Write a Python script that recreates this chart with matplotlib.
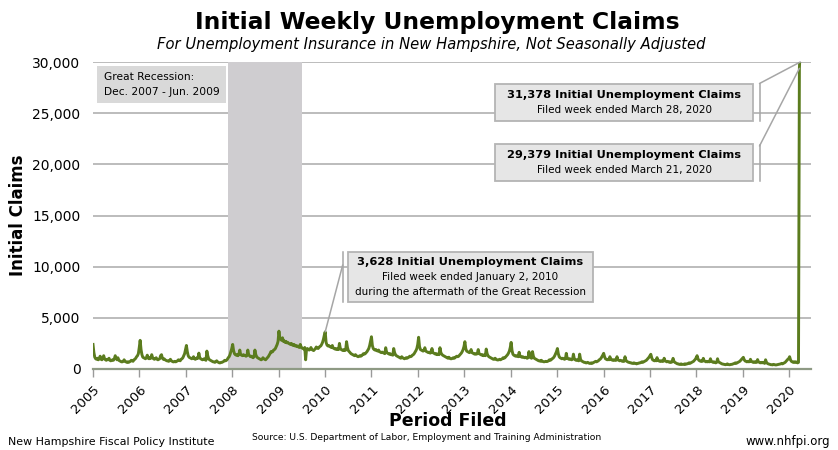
import matplotlib
matplotlib.use("Agg")
import matplotlib.pyplot as plt
from matplotlib.patches import Rectangle
from matplotlib.lines import Line2D
import pandas as pd
import numpy as np

# ---------------- data (weekly initial claims, week-ending Saturdays) -------------
years = list(range(2005, 2021))
claims_2005 = [2400, 1600, 1150, 1000, 950, 1050, 900, 1000, 1250, 950, 900, 1000, 1300, 1000, 900, 850, 950, 900, 1050, 850, 800, 850, 900, 850, 1000, 1300, 1050, 900, 1100, 850, 800, 750, 700, 700, 750, 900, 750, 700, 650, 700, 650, 700, 750, 850, 800, 750, 900, 950, 1050, 1200, 1300, 1500, 2100]
claims_2006 = [2800, 1900, 1400, 1150, 1100, 1050, 1000, 1100, 1350, 1050, 1000, 1100, 1050, 1400, 1100, 1000, 950, 1000, 1100, 950, 900, 950, 1000, 1300, 1400, 1050, 950, 1000, 900, 850, 800, 800, 750, 800, 950, 800, 750, 700, 700, 750, 700, 750, 800, 900, 850, 800, 950, 1000, 1100, 1300, 1500, 1900]
claims_2007 = [2300, 1700, 1300, 1150, 1100, 1050, 1000, 1050, 1200, 1000, 950, 1000, 1100, 1050, 1550, 1100, 1000, 950, 900, 950, 1000, 900, 850, 1750, 1300, 1000, 900, 850, 800, 750, 700, 700, 650, 700, 800, 700, 650, 600, 600, 650, 650, 700, 750, 850, 800, 850, 950, 1100, 1200, 1400, 1700, 2000]
claims_2008 = [2400, 1800, 1500, 1400, 1350, 1400, 1300, 1450, 1850, 1400, 1350, 1300, 1400, 1350, 1300, 1250, 1300, 1850, 1400, 1300, 1200, 1250, 1150, 1100, 1200, 1850, 1400, 1200, 1100, 1050, 1000, 950, 900, 950, 1100, 1000, 950, 900, 1000, 1100, 1200, 1350, 1500, 1700, 1650, 1700, 1850, 1900, 2000, 2200, 2400, 2700]
claims_2009 = [3700, 3000, 2900, 2800, 3050, 2700, 2750, 2600, 2700, 2550, 2600, 2500, 2450, 2400, 2500, 2350, 2300, 2400, 2250, 2300, 2200, 2250, 2150, 2100, 2400, 2150, 2050, 2000, 1950, 2100, 900, 1900, 2000, 1900, 1850, 1950, 2100, 1900, 1850, 1800, 1900, 2000, 2150, 2050, 2000, 2100, 2200, 2250, 2400, 2600, 2900, 3300]
claims_2010 = [3628, 2600, 2350, 2250, 2300, 2200, 2150, 2100, 2300, 2050, 2000, 1950, 2000, 1900, 1950, 1900, 2500, 2000, 1900, 1850, 1800, 1900, 1800, 1850, 2670, 2100, 1800, 1700, 1600, 1500, 1450, 1400, 1350, 1300, 1400, 1300, 1250, 1200, 1250, 1300, 1250, 1300, 1400, 1500, 1450, 1500, 1600, 1700, 1850, 2000, 2300, 2700]
claims_2011 = [3150, 2300, 2000, 1900, 1850, 1900, 1800, 1750, 1850, 1700, 1650, 1600, 1650, 1600, 1550, 1500, 2080, 1650, 1550, 1500, 1450, 1500, 1400, 1400, 1350, 2000, 1600, 1400, 1300, 1250, 1200, 1150, 1100, 1050, 1200, 1100, 1050, 1000, 1050, 1100, 1050, 1100, 1150, 1250, 1200, 1250, 1350, 1400, 1500, 1650, 1800, 2000, 2400]
claims_2012 = [3100, 2200, 1900, 1850, 1800, 1750, 1800, 2080, 1750, 1700, 1650, 1600, 1650, 1550, 1600, 2000, 1600, 1550, 1500, 1450, 1500, 1400, 1450, 1400, 2080, 1600, 1450, 1350, 1300, 1250, 1200, 1150, 1100, 1050, 1150, 1050, 1000, 1000, 1050, 1100, 1050, 1100, 1200, 1250, 1200, 1250, 1350, 1450, 1550, 1700, 1900, 2200]
claims_2013 = [2670, 2000, 1750, 1700, 1650, 1600, 1650, 1900, 1600, 1550, 1500, 1450, 1500, 1450, 1500, 1900, 1500, 1450, 1400, 1350, 1400, 1300, 1350, 1300, 1950, 1500, 1300, 1200, 1150, 1100, 1050, 1000, 950, 950, 1050, 950, 900, 880, 900, 950, 900, 950, 1000, 1100, 1050, 1100, 1200, 1300, 1400, 1550, 1750, 2100]
claims_2014 = [2600, 1800, 1450, 1350, 1300, 1250, 1300, 1250, 1200, 1630, 1250, 1200, 1150, 1200, 1150, 1100, 1150, 1100, 1050, 1100, 1700, 1200, 1100, 1050, 1700, 1250, 1050, 1000, 950, 900, 850, 800, 800, 750, 850, 750, 720, 700, 720, 750, 720, 750, 800, 900, 850, 900, 1000, 1050, 1150, 1300, 1500, 1700]
claims_2015 = [2000, 1500, 1200, 1100, 1050, 1000, 1050, 1000, 950, 1000, 1530, 1050, 1000, 950, 1000, 950, 900, 950, 1450, 1000, 900, 850, 900, 850, 800, 1450, 950, 800, 750, 700, 650, 650, 600, 600, 650, 600, 550, 550, 600, 550, 600, 650, 700, 750, 700, 750, 800, 900, 950, 1050, 1200, 1350]
claims_2016 = [1530, 1200, 1000, 950, 900, 950, 900, 1200, 950, 900, 850, 900, 850, 900, 850, 1200, 900, 850, 800, 850, 800, 750, 800, 750, 1200, 850, 750, 700, 650, 650, 600, 600, 550, 550, 600, 550, 550, 500, 550, 550, 600, 600, 650, 700, 650, 700, 750, 800, 850, 950, 1050, 1150, 1300]
claims_2017 = [1440, 1100, 900, 850, 800, 850, 800, 1110, 850, 800, 750, 800, 750, 800, 750, 1050, 800, 750, 700, 750, 700, 650, 700, 650, 700, 1040, 750, 650, 600, 550, 500, 500, 450, 450, 500, 450, 450, 450, 500, 450, 500, 500, 550, 600, 550, 600, 650, 700, 750, 850, 950, 1100]
claims_2018 = [1300, 1000, 850, 800, 750, 800, 750, 1040, 800, 750, 700, 750, 700, 750, 700, 1000, 750, 700, 650, 700, 650, 600, 650, 1000, 700, 650, 600, 550, 500, 480, 450, 450, 420, 450, 500, 450, 420, 420, 450, 450, 480, 500, 550, 600, 550, 600, 650, 700, 750, 850, 950, 1050]
claims_2019 = [1140, 900, 780, 750, 700, 750, 700, 720, 950, 750, 700, 650, 700, 650, 700, 650, 920, 700, 650, 600, 650, 600, 650, 600, 550, 900, 650, 550, 500, 480, 450, 420, 420, 400, 450, 420, 400, 400, 420, 450, 450, 480, 500, 550, 500, 550, 600, 650, 750, 850, 950, 1000]
claims_2020 = [1200, 900, 750, 700, 650, 700, 650, 700, 650, 600, 650, 29379, 31378]

claims_by_year = [claims_2005, claims_2006, claims_2007, claims_2008, claims_2009,
                  claims_2010, claims_2011, claims_2012, claims_2013, claims_2014,
                  claims_2015, claims_2016, claims_2017, claims_2018, claims_2019,
                  claims_2020]

recession_start = "2007-12-01"
recession_end = "2009-06-30"

y_ticks = [0, 5000, 10000, 15000, 20000, 25000, 30000]
x_tick_labels = [str(y) for y in years]

# ---------------- build series ----------------
all_weeks = pd.date_range("2005-01-01", "2020-03-28", freq="W-SAT")
dates, values = [], []
for yr, vals in zip(years, claims_by_year):
    wk = [d for d in all_weeks if d.year == yr]
    for d, v in zip(wk, vals):
        dates.append(d)
        values.append(v)
dates = pd.to_datetime(dates)
values = np.array(values)
series = pd.Series(values, index=dates)

# ---------------- figure ----------------
plt.rcParams["font.family"] = ["DejaVu Sans"]
W, H = 838, 450
fig = plt.figure(figsize=(W / 100, H / 100), dpi=100)
L, R, T, B = 93, 810.7, 62, 369
ax = fig.add_axes([L / W, 1 - B / H, (R - L) / W, (B - T) / H])

ax.set_ylim(0, 30000)
ax.set_xlim(pd.Timestamp("2005-01-01"), pd.Timestamp("2020-06-18"))

# grid
for yv in y_ticks[1:]:
    ax.axhline(yv, color="#a9a9a9", lw=1.1, zorder=1)

# recession band
ax.axvspan(pd.Timestamp(recession_start), pd.Timestamp(recession_end),
           color="#cfcdd0", lw=0, zorder=2)

# line
ax.plot(series.index, series.values, color="#5b7c1e", lw=2.1, zorder=4,
        solid_joinstyle="round")

# axes styling
for s in ["left", "right", "top"]:
    ax.spines[s].set_visible(False)
ax.spines["bottom"].set_color("#8e9a84")
ax.spines["bottom"].set_linewidth(1.6)
ax.spines["bottom"].set_zorder(5)

ax.set_yticks(y_ticks)
ax.set_yticklabels([f"{v:,}" for v in y_ticks], fontsize=10)
ax.tick_params(axis="y", length=0, pad=9)

xt = [pd.Timestamp(f"{y}-01-01") for y in years]
ax.set_xticks(xt)
ax.set_xticklabels(x_tick_labels, fontsize=9.5, rotation=45, ha="right",
                   rotation_mode="anchor")
ax.tick_params(axis="x", length=6, width=1, color="#9a9a9a", pad=4)

# titles
fig.text(437 / W, 1 - 22 / H, "Initial Weekly Unemployment Claims",
         ha="center", va="center", fontsize=16.8, fontweight="bold")
fig.text(431 / W, 1 - 44 / H,
         "For Unemployment Insurance in New Hampshire, Not Seasonally Adjusted",
         ha="center", va="center", fontsize=10.65, style="italic")
fig.text(18 / W, 1 - 215 / H, "Initial Claims", rotation=90, ha="center",
         va="center", fontsize=12, fontweight="bold")
fig.text(448 / W, 1 - 421 / H, "Period Filed", ha="center", va="center",
         fontsize=12.5, fontweight="bold")

# footer
fig.text(8 / W, 1 - 442 / H, "New Hampshire Fiscal Policy Institute",
         ha="left", va="center", fontsize=7.9)
fig.text(427 / W, 1 - 438 / H,
         "Source: U.S. Department of Labor, Employment and Training Administration",
         ha="center", va="center", fontsize=6.6)
fig.text(830 / W, 1 - 442 / H, "www.nhfpi.org", ha="right", va="center",
         fontsize=8.5)


def px2ax(x, y):
    return ((x - L) / (R - L), (B - y) / (B - T))


def box(x0, y0, x1, y1, fc, ec):
    a0 = px2ax(x0, y1)
    a1 = px2ax(x1, y0)
    r = Rectangle(a0, a1[0] - a0[0], a1[1] - a0[1], transform=ax.transAxes,
                  facecolor=fc, edgecolor=ec, lw=1.3 if ec != "none" else 0,
                  zorder=6, clip_on=False)
    ax.add_patch(r)


# recession note
box(97, 66, 226, 103, "#d9d9d9", "none")
ax.text(*px2ax(104, 77), "Great Recession:", transform=ax.transAxes,
        ha="left", va="center", fontsize=7.7, zorder=7)
ax.text(*px2ax(104, 92), "Dec. 2007 - Jun. 2009", transform=ax.transAxes,
        ha="left", va="center", fontsize=7.7, zorder=7)

# callouts
peak_cap = 30000
callouts = [
    ((495, 83.5, 753, 120.5), 759.5, (83.5, 120.5), 83.5,
     pd.Timestamp("2020-03-28"), 31378,
     ["31,378 Initial Unemployment Claims", "Filed week ended March 28, 2020"]),
    ((495, 144.5, 753, 181), 759.5, (144.5, 181), 146,
     pd.Timestamp("2020-03-21"), 29379,
     ["29,379 Initial Unemployment Claims", "Filed week ended March 21, 2020"]),
    ((348, 252, 593, 301.5), 342.7, (252, 301.5), 265,
     pd.Timestamp("2010-01-02"), 3628,
     ["3,628 Initial Unemployment Claims", "Filed week ended January 2, 2010",
      "during the aftermath of the Great Recession"]),
]
for (x0, y0, x1, y1), bx, (by0, by1), ly, d, v, lines in callouts:
    box(x0, y0, x1, y1, "#e6e6e6", "#b4b4b4")
    a_top = px2ax(bx, by0)
    a_bot = px2ax(bx, by1)
    ax.add_line(Line2D([a_top[0], a_bot[0]], [a_top[1], a_bot[1]],
                       transform=ax.transAxes, color="#a6a6a6", lw=1.1,
                       zorder=6, clip_on=False))
    start = px2ax(bx, ly)
    ax.annotate("", xy=(d, min(v, peak_cap)), xycoords="data",
                xytext=start, textcoords="axes fraction",
                arrowprops=dict(arrowstyle="-", color="#a6a6a6", lw=1.1,
                                shrinkA=0, shrinkB=0), zorder=6)
    cx = (x0 + x1) / 2
    n = len(lines)
    lh = 15
    ymid = (y0 + y1) / 2
    for i, t in enumerate(lines):
        yy = ymid + (i - (n - 1) / 2) * lh
        ax.text(*px2ax(cx, yy), t, transform=ax.transAxes, ha="center",
                va="center", fontsize=8.2 if i == 0 else 7.5,
                fontweight="bold" if i == 0 else "normal", zorder=7)

fig.savefig("out.png", dpi=100)
